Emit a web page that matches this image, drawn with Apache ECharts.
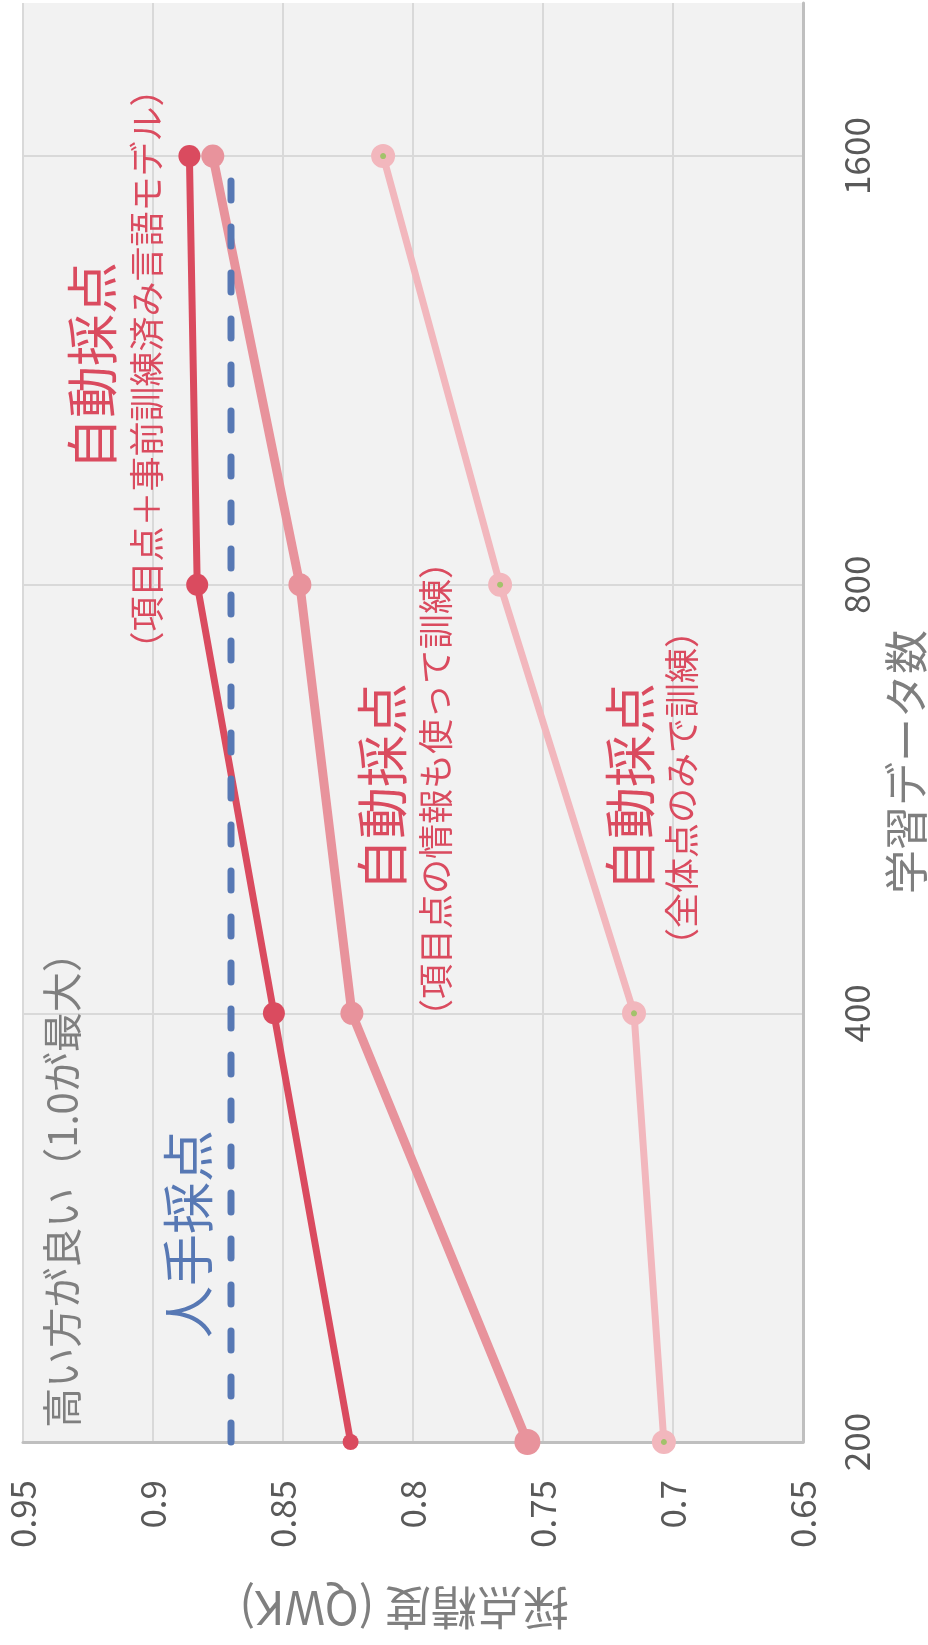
<!DOCTYPE html>
<html>
<head>
<meta charset="utf-8">
<script src="https://cdn.jsdelivr.net/npm/echarts@6/dist/echarts.min.js"></script>
<style>
html,body{margin:0;padding:0;background:#ffffff;}
#chart{width:928px;height:1645px;}
</style>
</head>
<body>
<div id="chart"></div>
<script>
// 学習データ数 (categories)
const categories = ['200', '400', '800', '1600'];
// 採点精度 (QWK)
const autoPretrained = [0.824, 0.8535, 0.883, 0.886];   // 自動採点（項目点＋事前訓練済み言語モデル）
const autoItemScore  = [0.756, 0.8235, 0.8435, 0.877];  // 自動採点（項目点の情報も使って訓練）
const autoTotalOnly  = [0.7035, 0.715, 0.7665, 0.8115]; // 自動採点（全体点のみで訓練）
const humanScore     = [0.870, 0.870, 0.870, 0.870];    // 人手採点

const FONT = '"Noto Sans CJK JP", "Noto Sans", sans-serif';
const RED = '#da4b5f', MID = '#e8939c', PALE = '#f2b7bd', GREEN = '#a3c26b', BLUE = '#5778b4';

function pts(vals) { return categories.map((c, i) => [vals[i], i]); }

function txt(x, y, text, size, color, weight) {
  return {
    type: 'text', x: x, y: y, rotation: Math.PI / 2, z: 100,
    style: {
      text: text, fill: color, fontSize: size, fontFamily: FONT, fontWeight: weight || 'normal',
      font: (weight || 'normal') + ' ' + size + 'px ' + FONT,
      align: 'center', verticalAlign: 'middle', textAlign: 'center', textVerticalAlign: 'middle'
    }
  };
}

const chart = echarts.init(document.getElementById('chart'), null, {renderer: 'canvas'});
chart.setOption({
  animation: false,
  backgroundColor: '#ffffff',
  grid: {left: 23, right: 125, top: 2, bottom: 203, show: true, backgroundColor: '#f2f2f2', borderWidth: 0, containLabel: false},
  xAxis: {
    type: 'value', min: 0.65, max: 0.95, interval: 0.05, inverse: true, position: 'bottom',
    axisLine: {show: true, onZero: false, lineStyle: {color: '#bfbfbf', width: 3}},
    axisTick: {show: false},
    axisLabel: {rotate: 90, margin: 38, fontSize: 35, color: '#595959', fontFamily: FONT},
    splitLine: {show: true, lineStyle: {color: '#d9d9d9', width: 2}}
  },
  yAxis: {
    type: 'value', min: 0, max: 3.357, interval: 1, position: 'right',
    axisLine: {show: true, onZero: false, lineStyle: {color: '#bfbfbf', width: 3}},
    axisTick: {show: false},
    axisLabel: {
      rotate: 90, margin: 36, fontSize: 35, color: '#595959', fontFamily: FONT,
      formatter: function (v) { return Number.isInteger(v) && categories[v] !== undefined ? categories[v] : ''; }
    },
    splitLine: {show: true, showMaxLine: false, lineStyle: {color: '#d9d9d9', width: 2}}
  },
  series: [
    {
      name: '自動採点（項目点＋事前訓練済み言語モデル）', type: 'line', data: pts(autoPretrained), clip: false,
      symbol: 'circle', symbolSize: function (v, p) { return p.dataIndex === 0 ? 16 : 22; },
      lineStyle: {color: RED, width: 7, join: 'round'}, itemStyle: {color: RED}
    },
    {
      name: '自動採点（項目点の情報も使って訓練）', type: 'line', data: pts(autoItemScore), clip: false,
      symbol: 'circle', symbolSize: function (v, p) { return p.dataIndex === 0 ? 26 : 23; },
      lineStyle: {color: MID, width: 9, join: 'round'}, itemStyle: {color: MID}
    },
    {
      name: '自動採点（全体点のみで訓練）', type: 'line', data: pts(autoTotalOnly), clip: false,
      symbol: 'circle', symbolSize: 15,
      lineStyle: {color: PALE, width: 7, join: 'round'}, itemStyle: {color: GREEN, borderColor: PALE, borderWidth: 9}
    },
    {
      name: '人手採点', type: 'line', data: pts(humanScore), clip: false, showSymbol: false, symbol: 'none',
      lineStyle: {color: BLUE, width: 7, type: [19, 27], cap: 'round'}
    }
  ],
  graphic: [
    txt(92, 366, '自動採点', 52, RED),
    txt(147, 369, '（項目点＋事前訓練済み言語モデル）', 35, RED),
    txt(382, 787, '自動採点', 52, RED),
    txt(436, 789, '（項目点の情報も使って訓練）', 35, RED),
    txt(630, 787, '自動採点', 52, RED),
    txt(682, 788, '（全体点のみで訓練）', 35, RED),
    txt(188, 1234, '人手採点', 52, BLUE),
    txt(62, 1180, '高い方が良い（1.0が最大）', 40, '#7f7f7f'),
    txt(906, 762, '学習データ数', 44, '#7f7f7f'),
    {
      type: 'text', x: 404, y: 1608, rotation: Math.PI, z: 100,
      style: {
        text: '採点精度 (QWK)', fill: '#7f7f7f', fontSize: 46, fontFamily: FONT,
        font: 'normal 46px ' + FONT,
        align: 'center', verticalAlign: 'middle', textAlign: 'center', textVerticalAlign: 'middle'
      }
    }
  ]
});
</script>
</body>
</html>
